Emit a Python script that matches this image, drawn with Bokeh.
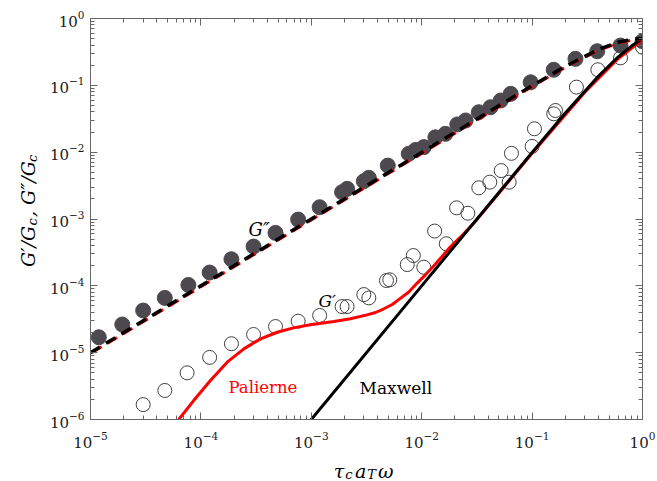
import math
from bokeh.plotting import figure
from bokeh.layouts import row, column
from bokeh.models import Range1d, LogAxis, FixedTicker, Label
from bokeh.embed import file_html
from bokeh.resources import INLINE

# ---------------- data ----------------
# G''/Gc measured (filled circles)
gpp_x = [1.19e-5, 1.94e-5, 3.0e-5, 4.71e-5, 7.7e-5, 1.2e-4, 1.89e-4, 3.0e-4, 4.74e-4,
         7.6e-4, 1.19e-3, 1.9e-3, 2.11e-3, 2.99e-3, 3.32e-3, 4.93e-3, 7.64e-3, 8.8e-3,
         1.045e-2, 1.33e-2, 1.64e-2, 2.1e-2, 2.5e-2, 3.29e-2, 4.2e-2, 5.2e-2, 6.4e-2,
         9.7e-2, 0.157, 0.247, 0.389, 0.632, 1.0]
gpp_y = [1.70e-5, 2.64e-5, 4.27e-5, 6.6e-5, 1.03e-4, 1.58e-4, 2.5e-4, 3.87e-4, 6.2e-4,
         9.8e-4, 1.5e-3, 2.52e-3, 2.83e-3, 3.67e-3, 4.13e-3, 6.3e-3, 9.45e-3, 1.08e-2,
         1.19e-2, 1.67e-2, 1.88e-2, 2.6e-2, 2.98e-2, 3.96e-2, 4.71e-2, 5.93e-2, 7.46e-2,
         0.111, 0.171, 0.249, 0.324, 0.394, 0.457]

# G'/Gc measured (open circles)
gp_x = [3.0e-5, 4.71e-5, 7.5e-5, 1.2e-4, 1.89e-4, 3.0e-4, 4.74e-4, 7.6e-4, 1.19e-3,
        1.9e-3, 2.11e-3, 2.99e-3, 3.32e-3, 4.8e-3, 5.14e-3, 7.4e-3, 8.4e-3, 1.045e-2,
        1.31e-2, 1.67e-2, 2.07e-2, 2.62e-2, 3.29e-2, 4.14e-2, 5.25e-2, 6.2e-2, 6.5e-2,
        0.1, 0.105, 0.157, 0.163, 0.252, 0.394, 0.632, 1.0]
gp_y = [1.67e-6, 2.72e-6, 4.99e-6, 8.5e-6, 1.36e-5, 1.87e-5, 2.46e-5, 2.96e-5, 3.6e-5,
        4.9e-5, 4.9e-5, 7.4e-5, 6.6e-5, 1.2e-4, 1.23e-4, 2.08e-4, 2.84e-4, 1.9e-4,
        6.6e-4, 4.26e-4, 1.47e-3, 1.22e-3, 2.93e-3, 3.56e-3, 5.3e-3, 3.56e-3, 9.6e-3,
        1.22e-2, 2.24e-2, 3.75e-2, 4.2e-2, 9.4e-2, 0.171, 0.258, 0.372]

# Palierne model G' (red solid)
pal_gp_x = [6.3e-5, 8.6e-5, 1.22e-4, 1.73e-4, 2.45e-4, 3.47e-4, 4.91e-4, 6.9e-4, 9.8e-4,
            1.6e-3, 2.26e-3, 3.2e-3, 3.82e-3, 4.5e-3, 5.41e-3, 6.4e-3, 7.64e-3, 9.1e-3,
            1.08e-2, 1.29e-2, 1.53e-2, 1.82e-2, 2.4e-2, 3.0e-2, 0.1, 0.3, 0.6, 1.0]
pal_gp_y = [1.0e-6, 1.92e-6, 3.83e-6, 7.2e-6, 1.14e-5, 1.61e-5, 2.02e-5, 2.35e-5, 2.61e-5,
            2.92e-5, 3.21e-5, 3.68e-5, 3.99e-5, 4.5e-5, 5.25e-5, 6.5e-5, 8.1e-5, 1.1e-4,
            1.46e-4, 2.0e-4, 2.75e-4, 3.85e-4, 6.0e-4, 8.85e-4, 9.6e-3, 7.9e-2, 0.25, 0.48]

# Maxwell model G' (black solid)
max_gp_x = [9.0e-4, 1e-3, 1e-2, 0.1, 0.2, 0.4, 0.6, 0.8, 1.0]
max_gp_y = [8.1e-7, 1e-6, 1e-4, 9.9e-3, 3.85e-2, 0.138, 0.265, 0.39, 0.5]

# Maxwell model G'' (black dashed) and Palierne model G'' (red, under it)
max_gpp_x = [1e-5, 1e-4, 1e-3, 1e-2, 3e-2, 0.1, 0.2, 0.4, 0.6, 0.8, 1.0]
max_gpp_y = [1e-5, 1e-4, 1e-3, 9.9e-3, 2.97e-2, 9.9e-2, 0.192, 0.345, 0.44, 0.488, 0.5]
pal_gpp_y = [9.7e-6, 9.7e-5, 9.7e-4, 9.6e-3, 2.88e-2, 9.6e-2, 0.186, 0.335, 0.427, 0.474, 0.485]

x_major = [1e-5, 1e-4, 1e-3, 1e-2, 1e-1, 1.0]
y_major = [1e-6, 1e-5, 1e-4, 1e-3, 1e-2, 1e-1, 1.0]

# ---------------- layout ----------------
W, H = 657, 481
YLAB_W = 40          # strip holding the y-axis title
XLAB_H = 29          # strip holding the x-axis title
MW, MH = W - YLAB_W, H - XLAB_H
L, R, T, B = 50, 15, 18, 33   # borders of the main figure
FL = YLAB_W + L               # frame left in page pixels
FW, FH = MW - L - R, MH - T - B
X0, X1, Y0, Y1 = 1e-5, 1.0, 1e-6, 1.0
XDEC = math.log10(X1) - math.log10(X0)
YDEC = math.log10(Y1) - math.log10(Y0)
FONT = "DejaVu Serif"
AX = "#666666"


def px2x(px):
    return 10 ** (math.log10(X0) + (px - FL) / FW * XDEC)


def px2y(py):
    return 10 ** (math.log10(Y1) - (py - T) / FH * YDEC)


p = figure(width=MW, height=MH, x_axis_type="log", y_axis_type="log",
           x_range=Range1d(X0, X1), y_range=Range1d(Y0, Y1),
           output_backend="svg", toolbar_location=None,
           min_border_left=L, min_border_right=R, min_border_top=T, min_border_bottom=B,
           background_fill_color="white", border_fill_color="white")
p.xgrid.visible = False
p.ygrid.visible = False
p.outline_line_color = AX
p.outline_line_width = 1


def minor_of(major):
    out = []
    for m in major[:-1]:
        for k in range(2, 10):
            out.append(m * k)
    return out


def style_axis(ax, major, labels=True):
    ax.ticker = FixedTicker(ticks=major, minor_ticks=minor_of(major))
    ax.axis_line_color = AX
    ax.major_tick_line_color = AX
    ax.minor_tick_line_color = AX
    ax.major_tick_in = 7
    ax.major_tick_out = 0
    ax.minor_tick_in = 4
    ax.minor_tick_out = 0
    ax.major_label_text_font = FONT
    if labels:
        ax.major_label_text_color = "#1a1a1a"
        ax.major_label_text_font_size = "15px"
    else:
        ax.major_label_text_alpha = 0
        ax.major_label_text_font_size = "1px"
        ax.major_label_standoff = 0


style_axis(p.xaxis[0], x_major)
style_axis(p.yaxis[0], y_major)
p.xaxis[0].major_label_standoff = 12
p.yaxis[0].major_label_standoff = 6

top = LogAxis()
right = LogAxis()
style_axis(top, x_major, labels=False)
style_axis(right, y_major, labels=False)
p.add_layout(top, "above")
p.add_layout(right, "right")

# ---------------- marks ----------------
p.scatter(gpp_x, gpp_y, marker="circle", size=15, fill_color="#4d4a4f",
          line_color="#4d4a4f", line_width=1)
p.scatter(gp_x, gp_y, marker="circle", size=14, fill_color=None,
          line_color="#404040", line_width=1)

p.line(pal_gp_x, pal_gp_y, line_color="#ff0000", line_width=3, line_join="round")
p.line(max_gp_x, max_gp_y, line_color="black", line_width=3)

p.line(max_gpp_x, pal_gpp_y, line_color="#ff0000", line_width=3,
       line_dash="11 7", line_dash_offset=-2)
p.line(max_gpp_x, max_gpp_y, line_color="black", line_width=3.5, line_dash="11 7")

# ---------------- in-plot annotations ----------------


def add_label(fig, x, y, text, size, color="black", style="normal", angle=0.0):
    fig.add_layout(Label(x=x, y=y, text=text, text_font=FONT,
                         text_font_size=f"{size}px", text_font_style=style,
                         text_color=color, text_align="left",
                         text_baseline="alphabetic", angle=angle))


add_label(p, px2x(248), px2y(229), "G\u2033", 18, style="italic")
add_label(p, px2x(318), px2y(300), "G\u2032", 17, style="italic")
add_label(p, px2x(228), px2y(387), "Palierne", 16.5, color="#ff0000")
add_label(p, px2x(359), px2y(387), "Maxwell", 17)

# ---------------- axis titles in side strips ----------------
WID = {"G": 0.775, "\u2032": 0.30, "\u2033": 0.48, "/": 0.337, ",": 0.318, " ": 0.318,
       "c": 0.593, "\u03c4": 0.55, "a": 0.596, "T": 0.682, "\u03c9": 0.80}


def twidth(s, size):
    return sum(WID.get(ch, 0.6) for ch in s) * size


def strip(w, h):
    f = figure(width=w, height=h, x_range=Range1d(0, w), y_range=Range1d(0, h),
               output_backend="svg", toolbar_location=None,
               x_axis_location=None, y_axis_location=None,
               min_border=0, min_border_left=0, min_border_right=0,
               min_border_top=0, min_border_bottom=0,
               background_fill_color="white", border_fill_color="white")
    f.outline_line_color = None
    f.xgrid.visible = False
    f.ygrid.visible = False
    return f


MAIN, SUB = 19, 13

# y title: rotated, reads bottom to top; strip spans page y 0..MH
# (text, size, subscript?, gap before, gap after)
ystrip = strip(YLAB_W, MH)
ypieces = [("G\u2032/G", MAIN, False, 0, 0), ("c", SUB, True, 5, 2),
           (", G\u2033/G", MAIN, False, 0, 0), ("c", SUB, True, 5, 0)]
total = sum(twidth(s, sz) + g0 + g1 for s, sz, _, g0, g1 in ypieces)
pos = (MH - 217) - total / 2
for s, sz, sub, g0, g1 in ypieces:
    pos += g0
    add_label(ystrip, 27 + (5 if sub else 0), pos, s, sz, style="italic",
              angle=math.pi / 2)
    pos += twidth(s, sz) + g1

# x title: strip spans page y MH..H
xstrip = strip(W, XLAB_H)
xpieces = [("\u03c4", MAIN, False, 0, 0), ("c", SUB, True, 1, 2), ("a", MAIN, False, 0, 0),
           ("T", SUB, True, 1, 2), ("\u03c9", MAIN, False, 0, 0)]
total = sum(twidth(s, sz) + g0 + g1 for s, sz, _, g0, g1 in xpieces)
cx = 363 - total / 2
for s, sz, sub, g0, g1 in xpieces:
    cx += g0
    add_label(xstrip, cx, H - (470 + (4 if sub else 0)), s, sz, style="italic")
    cx += twidth(s, sz) + g1

layout = column(row(ystrip, p), xstrip)
open("out.html", "w").write(file_html(layout, INLINE))
